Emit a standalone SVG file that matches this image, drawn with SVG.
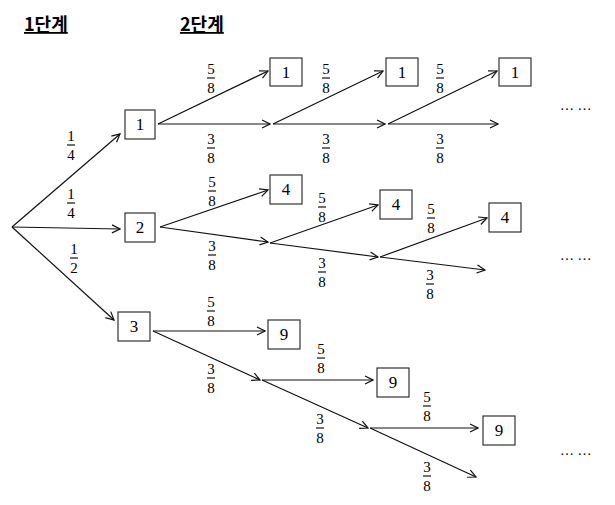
<svg xmlns="http://www.w3.org/2000/svg" width="615" height="505" viewBox="0 0 615 505">
<style>
text{fill:#000}
.h{font-family:"Noto Sans CJK KR","Liberation Serif",serif;font-weight:bold;font-size:18px;text-decoration:underline}
.n{font-family:"Liberation Serif",serif;font-size:17px;text-anchor:middle}
.f{font-family:"Liberation Serif",serif;font-size:15px;text-anchor:middle}
.b{fill:#fff;stroke:#333;stroke-width:1.2}
.c{stroke:#111;stroke-width:1.2;fill:none}
.d{font-family:"Liberation Serif",serif;font-size:14px}
</style>
<defs>
<marker id="a" markerWidth="10" markerHeight="10" refX="9" refY="5" orient="auto" markerUnits="userSpaceOnUse"><path d="M1,1 L9,5 L1,9" fill="none" stroke="#111" stroke-width="1.2"/></marker>
<g id="fr"><line x1="-4" y1="0" x2="4" y2="0" stroke="#111" stroke-width="1.2"/></g>
</defs>
<rect width="615" height="505" fill="#fff"/>
<text class="h" x="24" y="31">1단계</text>
<text class="h" x="180" y="31">2단계</text>
<g id="connectors" class="c" marker-end="url(#a)">
<line x1="12" y1="227" x2="120" y2="134"/>
<line x1="12" y1="227" x2="120" y2="229"/>
<line x1="12" y1="227" x2="114" y2="320"/>
<line x1="158" y1="124" x2="268" y2="71"/>
<line x1="158" y1="124" x2="270" y2="124"/>
<line x1="273" y1="124" x2="383" y2="71"/>
<line x1="273" y1="124" x2="385" y2="124"/>
<line x1="388" y1="124" x2="497" y2="71"/>
<line x1="388" y1="124" x2="498" y2="124"/>
<line x1="160" y1="227" x2="268" y2="190"/>
<line x1="160" y1="227" x2="268" y2="242"/>
<line x1="270" y1="243" x2="378" y2="205"/>
<line x1="270" y1="243" x2="378" y2="257"/>
<line x1="380" y1="257" x2="487" y2="218"/>
<line x1="380" y1="257" x2="485" y2="270"/>
<line x1="153" y1="331" x2="265" y2="331"/>
<line x1="153" y1="331" x2="260" y2="380"/>
<line x1="262" y1="380" x2="373" y2="380"/>
<line x1="262" y1="380" x2="368" y2="428"/>
<line x1="370" y1="428" x2="478" y2="428"/>
<line x1="370" y1="428" x2="476" y2="477"/>
</g>
<g id="s1-1"><rect class="b" x="125" y="110" width="30" height="29"/><text class="n" x="140" y="130">1</text></g>
<g id="s1-2"><rect class="b" x="125" y="213" width="30" height="29"/><text class="n" x="140" y="233">2</text></g>
<g id="s1-3"><rect class="b" x="118" y="312" width="32" height="29"/><text class="n" x="134" y="332">3</text></g>
<g id="r1a"><rect class="b" x="270" y="58" width="32" height="28"/><text class="n" x="286" y="78">1</text></g>
<g id="r1b"><rect class="b" x="386" y="58" width="32" height="28"/><text class="n" x="402" y="78">1</text></g>
<g id="r1c"><rect class="b" x="499" y="58" width="32" height="28"/><text class="n" x="515" y="78">1</text></g>
<g id="r2a"><rect class="b" x="270" y="175" width="32" height="29"/><text class="n" x="286" y="195">4</text></g>
<g id="r2b"><rect class="b" x="380" y="190" width="32" height="29"/><text class="n" x="396" y="210">4</text></g>
<g id="r2c"><rect class="b" x="489" y="203" width="32" height="29"/><text class="n" x="505" y="223">4</text></g>
<g id="r3a"><rect class="b" x="268" y="320" width="32" height="29"/><text class="n" x="284" y="340">9</text></g>
<g id="r3b"><rect class="b" x="377" y="368" width="32" height="29"/><text class="n" x="393" y="388">9</text></g>
<g id="r3c"><rect class="b" x="483" y="416" width="32" height="29"/><text class="n" x="499" y="436">9</text></g>
<g id="labels">
<g transform="translate(71,145)"><text class="f" y="-4">1</text><use href="#fr"/><text class="f" y="15">4</text></g>
<g transform="translate(71,203)"><text class="f" y="-4">1</text><use href="#fr"/><text class="f" y="15">4</text></g>
<g transform="translate(74,258)"><text class="f" y="-4">1</text><use href="#fr"/><text class="f" y="15">2</text></g>
<g transform="translate(211,78)"><text class="f" y="-4">5</text><use href="#fr"/><text class="f" y="15">8</text></g>
<g transform="translate(211,148)"><text class="f" y="-4">3</text><use href="#fr"/><text class="f" y="15">8</text></g>
<g transform="translate(326,78)"><text class="f" y="-4">5</text><use href="#fr"/><text class="f" y="15">8</text></g>
<g transform="translate(326,148)"><text class="f" y="-4">3</text><use href="#fr"/><text class="f" y="15">8</text></g>
<g transform="translate(440,78)"><text class="f" y="-4">5</text><use href="#fr"/><text class="f" y="15">8</text></g>
<g transform="translate(440,148)"><text class="f" y="-4">3</text><use href="#fr"/><text class="f" y="15">8</text></g>
<g transform="translate(212,191)"><text class="f" y="-4">5</text><use href="#fr"/><text class="f" y="15">8</text></g>
<g transform="translate(212,255)"><text class="f" y="-4">3</text><use href="#fr"/><text class="f" y="15">8</text></g>
<g transform="translate(322,207)"><text class="f" y="-4">5</text><use href="#fr"/><text class="f" y="15">8</text></g>
<g transform="translate(322,272)"><text class="f" y="-4">3</text><use href="#fr"/><text class="f" y="15">8</text></g>
<g transform="translate(431,218)"><text class="f" y="-4">5</text><use href="#fr"/><text class="f" y="15">8</text></g>
<g transform="translate(430,284)"><text class="f" y="-4">3</text><use href="#fr"/><text class="f" y="15">8</text></g>
<g transform="translate(211,311)"><text class="f" y="-4">5</text><use href="#fr"/><text class="f" y="15">8</text></g>
<g transform="translate(211,378)"><text class="f" y="-4">3</text><use href="#fr"/><text class="f" y="15">8</text></g>
<g transform="translate(321,358)"><text class="f" y="-4">5</text><use href="#fr"/><text class="f" y="15">8</text></g>
<g transform="translate(320,428)"><text class="f" y="-4">3</text><use href="#fr"/><text class="f" y="15">8</text></g>
<g transform="translate(427,406)"><text class="f" y="-4">5</text><use href="#fr"/><text class="f" y="15">8</text></g>
<g transform="translate(427,476)"><text class="f" y="-4">3</text><use href="#fr"/><text class="f" y="15">8</text></g>
</g>
<text class="d" x="560" y="110">…  …</text>
<text class="d" x="560" y="260">…  …</text>
<text class="d" x="560" y="455">…  …</text>
</svg>
